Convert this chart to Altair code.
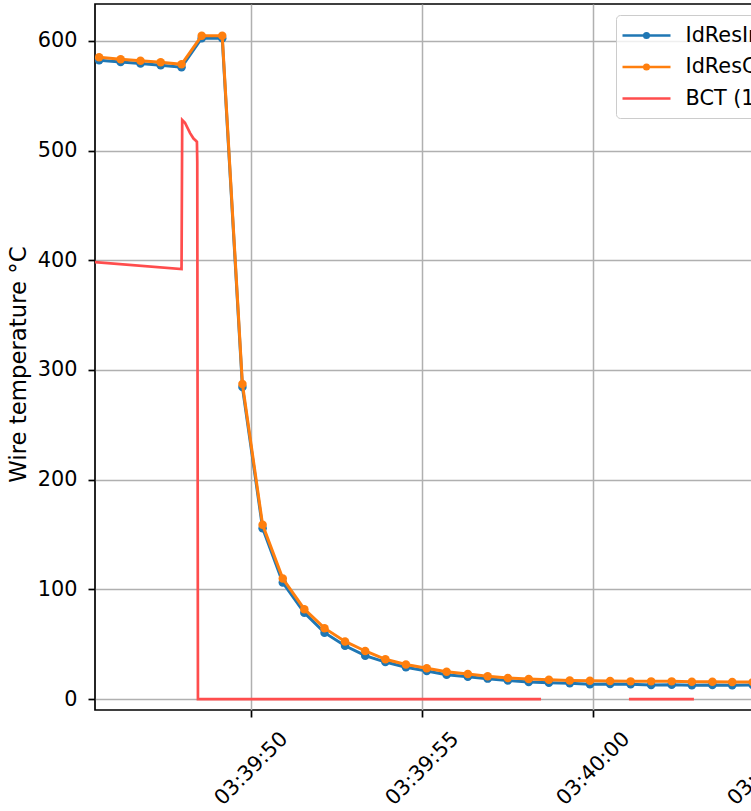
import json
import altair as alt
import pandas as pd

# ---------------- data ----------------
SERIES = ["IdResIn", "IdResCalc", "BCT (1)"]
COLORS = ["#1f77b4", "#ff7f0e", "#ff4d4d"]

sample_times = [
    "03:39:45.56", "03:39:46.19", "03:39:46.77", "03:39:47.36", "03:39:47.97",
    "03:39:48.56", "03:39:49.16", "03:39:49.75", "03:39:50.34", "03:39:50.93",
    "03:39:51.56", "03:39:52.15", "03:39:52.75", "03:39:53.34", "03:39:53.93",
    "03:39:54.53", "03:39:55.14", "03:39:55.72", "03:39:56.34", "03:39:56.92",
    "03:39:57.51", "03:39:58.12", "03:39:58.71", "03:39:59.32", "03:39:59.91",
    "03:40:00.50", "03:40:01.10", "03:40:01.70", "03:40:02.30", "03:40:02.89",
    "03:40:03.49", "03:40:04.07", "03:40:04.67", "03:40:05.27", "03:40:05.86",
    "03:40:06.46",
]
idres_i = [
    582.5, 580.8, 579.4, 577.9, 576.0, 602.5, 602.5, 284.5, 155.8, 106.2,
    78.7, 60.5, 48.6, 39.5, 33.7, 29.0, 25.5, 22.2, 20.3, 18.6,
    17.0, 15.5, 14.8, 14.3, 13.4, 13.7, 13.5, 12.8, 13.0, 12.5,
    12.8, 12.5, 12.7, 12.5, 12.4, 12.6,
]
idres_c = [
    585.1, 583.3, 582.0, 580.6, 578.7, 604.8, 604.8, 287.2, 158.9, 109.9,
    81.9, 64.6, 52.5, 43.8, 36.2, 31.5, 28.0, 24.9, 22.8, 20.7,
    19.1, 18.2, 17.6, 17.0, 16.7, 16.4, 16.1, 16.1, 16.1, 15.8,
    15.8, 15.5, 15.5, 15.4, 15.4, 15.3,
]
bct_times = [
    "03:39:45.40", "03:39:47.97", "03:39:47.99", "03:39:48.07", "03:39:48.22",
    "03:39:48.32", "03:39:48.39", "03:39:48.42", "03:39:48.43", "03:39:48.45",
    "03:39:58.48", "03:40:01.05", "03:40:02.95",
]
bct_values = [398.5, 392.0, 528.0, 525.5, 516.0, 511.0, 509.0, 508.0, 490.0, 0.0,
              0.0, 0.0, 0.0]
bct_segment = [0, 0, 0, 0, 0, 0, 0, 0, 0, 0, 0, 1, 1]

tick_labels = ["03:39:50", "03:39:55", "03:40:00", "03:40:05"]
y_ticks = [0, 100, 200, 300, 400, 500, 600]
x_domain = ["03:39:45.44", "03:40:06.11"]
y_domain = [-10.0, 633.7]


def secs(s):
    h, m, sec = s.split(":")
    return int(h) * 3600 + int(m) * 60 + float(sec) - (3 * 3600 + 39 * 60)


rows = []
for name, vals in ((SERIES[0], idres_i), (SERIES[1], idres_c)):
    for t, v in zip(sample_times, vals):
        rows.append({"t": secs(t), "v": v, "series": name, "seg": 0})
for t, v, g in zip(bct_times, bct_values, bct_segment):
    rows.append({"t": secs(t), "v": v, "series": SERIES[2], "seg": g})
df = pd.DataFrame(rows)

tick_vals = [secs(s) for s in tick_labels]
label_expr = f"{json.dumps(tick_labels)}[indexof({json.dumps(tick_vals)}, datum.value)]"

FONT = "DejaVu Sans"
LINE_PATH = "M-2.4,0L2.4,0"
DOT_PATH = ("M-2.4,0L2.4,0M-0.22,0A0.22,0.22,0,1,0,0.22,0"
            "A0.22,0.22,0,1,0,-0.22,0Z")
symbol_expr = f"datum.value === {json.dumps(SERIES[2])} ? '{LINE_PATH}' : '{DOT_PATH}'"

color_scale = alt.Scale(domain=SERIES, range=COLORS)
legend = alt.Legend(
    orient="none", legendX=521, legendY=11, title=None,
    labelFontSize=20.8, labelFont=FONT, labelColor="black",
    symbolSize=400, symbolStrokeWidth=2.7, symbolType=alt.ExprRef(symbol_expr),
    symbolOffset=10, labelOffset=27.5,
    padding=9, rowPadding=9.5,
    strokeColor="#cccccc", fillColor="rgba(255,255,255,0.8)", cornerRadius=4,
)

x_enc = alt.X("t:Q", scale=alt.Scale(domain=[secs(x_domain[0]), secs(x_domain[1])], nice=False, zero=False),
              axis=alt.Axis(values=tick_vals, labelExpr=label_expr, title=None,
                            labelAngle=-45, labelAlign="center", labelBaseline="middle",
                            labelPadding=51.5, labelOverlap=False, labelFlush=False,
                            labelBound=False))
y_enc = alt.Y("v:Q", scale=alt.Scale(domain=y_domain, nice=False, zero=False),
              axis=alt.Axis(values=y_ticks, title="Wire temperature °C", labelPadding=11,
                            titleX=-70, titleY=360, titleAlign="center",
                            titleBaseline="alphabetic", titleAngle=-90,
                            titleFontSize=22.8, titleFontWeight="normal"))

base = alt.Chart(df)


def line_layer(name, width):
    return base.transform_filter(alt.datum.series == name).mark_line(
        strokeWidth=width, clip=True
    ).encode(
        x=x_enc, y=y_enc,
        color=alt.Color("series:N", scale=color_scale, legend=legend),
        detail="seg:N",
    )


def point_layer(name):
    return base.transform_filter(alt.datum.series == name).mark_circle(
        size=72, opacity=1, clip=True
    ).encode(
        x=x_enc, y=y_enc,
        color=alt.Color("series:N", scale=color_scale, legend=legend),
    )


chart = alt.layer(
    line_layer(SERIES[0], 3),
    point_layer(SERIES[0]),
    line_layer(SERIES[1], 3),
    point_layer(SERIES[1]),
    line_layer(SERIES[2], 2.7),
).properties(
    width=707, height=706,
    autosize=alt.AutoSizeParams(type="none"),
    padding={"left": 95, "top": 4, "right": -51, "bottom": 101},
).configure(
    font=FONT,
).configure_view(
    stroke="black", strokeWidth=1.7,
).configure_axis(
    grid=True, gridColor="#b0b0b0", gridWidth=1.5, gridOpacity=1,
    domain=False, tickColor="black", tickWidth=1.7, tickSize=7,
    labelFont=FONT, labelFontSize=20.8, labelColor="black", labelPadding=8,
    titleFont=FONT, titleColor="black",
)

chart.save("out.html", embed_options={"renderer": "svg", "actions": False})
